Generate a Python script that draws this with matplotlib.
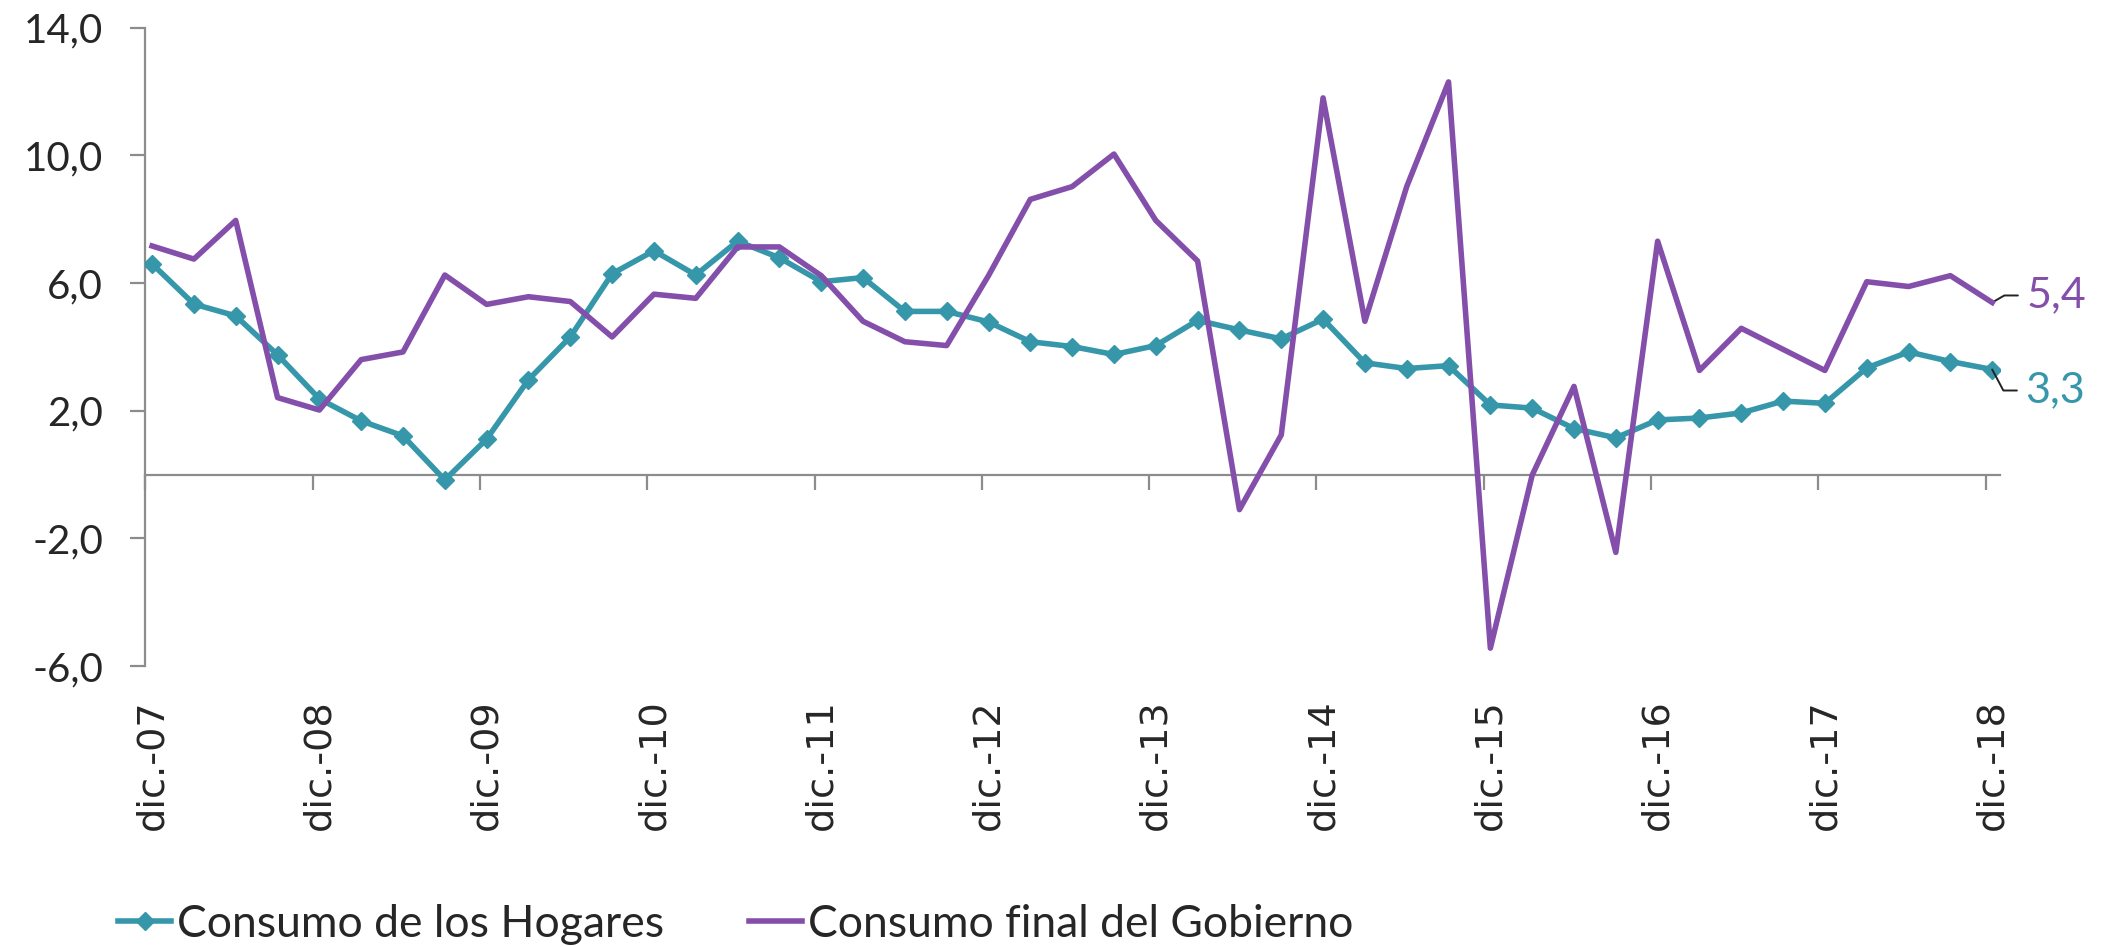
import matplotlib
matplotlib.use("Agg")
import matplotlib.pyplot as plt

# === datos (variación anual, %) ===
years = ['dic.-07', 'dic.-08', 'dic.-09', 'dic.-10', 'dic.-11', 'dic.-12',
         'dic.-13', 'dic.-14', 'dic.-15', 'dic.-16', 'dic.-17', 'dic.-18']

hogares = [6.60, 5.34, 4.97, 3.75, 2.37, 1.68, 1.21, -0.17, 1.11, 2.97, 4.31, 6.29,
           7.01, 6.25, 7.31, 6.79, 6.04, 6.17, 5.11, 5.11, 4.78, 4.16, 4.01, 3.76,
           4.04, 4.83, 4.53, 4.25, 4.87, 3.50, 3.32, 3.41, 2.18, 2.08, 1.44, 1.15,
           1.71, 1.77, 1.93, 2.30, 2.23, 3.34, 3.84, 3.54, 3.29]

gobierno = [7.16, 6.75, 7.96, 2.41, 2.02, 3.60, 3.84, 6.25, 5.33, 5.57, 5.42, 4.31,
            5.65, 5.52, 7.13, 7.13, 6.23, 4.80, 4.16, 4.04, 6.23, 8.62, 9.02, 10.04,
            7.96, 6.69, -1.10, 1.24, 11.80, 4.80, 9.02, 12.30, -5.44, -0.02, 2.76, -2.44,
            7.31, 3.26, 4.58, 3.92, 3.26, 6.04, 5.89, 6.23, 5.39]

yticks = [-6, -2, 2, 6, 10, 14]

teal = '#3697aa'
purple = '#834fab'
axis_gray = '#8c8c8c'
txt = '#262626'
label_font = ['Lato', 'DejaVu Sans']

x = list(range(len(hogares)))
shift = 0.16  # las marcas del eje van un poco antes de cada dato

fig = plt.figure(figsize=(21.01, 9.47), dpi=100)
ax = fig.add_axes([0.0692, 0.2967, 0.9828 - 0.0692 - 0.0308, 0.9708 - 0.2967])

ax.plot(x, hogares, color=teal, lw=4, marker='D', ms=9.5, mec=teal, mfc=teal,
        label='Consumo de los Hogares', zorder=3)
ax.plot(x, gobierno, color=purple, lw=4, label='Consumo final del Gobierno',
        zorder=4)

ax.set_xlim(-shift, 44.19)
ax.set_ylim(-6, 14)

# ejes
for s in ['top', 'right']:
    ax.spines[s].set_visible(False)
ax.spines['bottom'].set_position(('data', 0))
for s in ['left', 'bottom']:
    ax.spines[s].set_color(axis_gray)
    ax.spines[s].set_linewidth(1.6)

ax.set_yticks(yticks)
ax.set_yticklabels([f'{v:.1f}'.replace('.', ',') for v in yticks],
                   family=label_font, fontsize=29, color=txt)
ax.tick_params(axis='y', direction='out', length=10.5, width=1.6,
               color=axis_gray, pad=20)

ax.set_xticks([i * 4 - shift for i in range(len(years))])
ax.set_xticklabels([])
ax.tick_params(axis='x', direction='out', length=10.5, width=1.6,
               color=axis_gray)

# etiquetas de fecha abajo del área del gráfico
sec = ax.secondary_xaxis('bottom')
sec.spines['bottom'].set_visible(False)
sec.set_xticks([i * 4 for i in range(len(years))])
sec.set_xticklabels(years, rotation=90, fontsize=27.5, color=txt,
                    family='DejaVu Sans')
sec.tick_params(axis='x', length=0, pad=24)

# etiquetas del último dato
ax.annotate(f'{gobierno[-1]:.1f}'.replace('.', ','), xy=(x[-1], gobierno[-1]),
            xytext=(34, 7), textcoords='offset pixels', ha='left', va='center',
            fontsize=31, color=purple, family=label_font,
            arrowprops=dict(arrowstyle='-', color='#222222', lw=1.4,
                            connectionstyle='angle,angleA=0,angleB=30,rad=0',
                            relpos=(0, 0.5), shrinkA=4, shrinkB=0))
ax.annotate(f'{hogares[-1]:.1f}'.replace('.', ','), xy=(x[-1], hogares[-1]),
            xytext=(33, -21), textcoords='offset pixels', ha='left', va='center',
            fontsize=31, color=teal, family=label_font,
            arrowprops=dict(arrowstyle='-', color='#222222', lw=1.4,
                            connectionstyle='angle,angleA=0,angleB=-62,rad=0',
                            relpos=(0, 0.5), shrinkA=4, shrinkB=0))

leg = fig.legend(loc='center left', bbox_to_anchor=(118 / 2101, 1 - 924 / 947),
                 ncol=2, frameon=False, borderpad=0, borderaxespad=0,
                 handlelength=1.2, handletextpad=0.13, columnspacing=1.9,
                 prop={'family': label_font, 'size': 32})
for t in leg.get_texts():
    t.set_color(txt)

fig.savefig('out.png', dpi=100)
